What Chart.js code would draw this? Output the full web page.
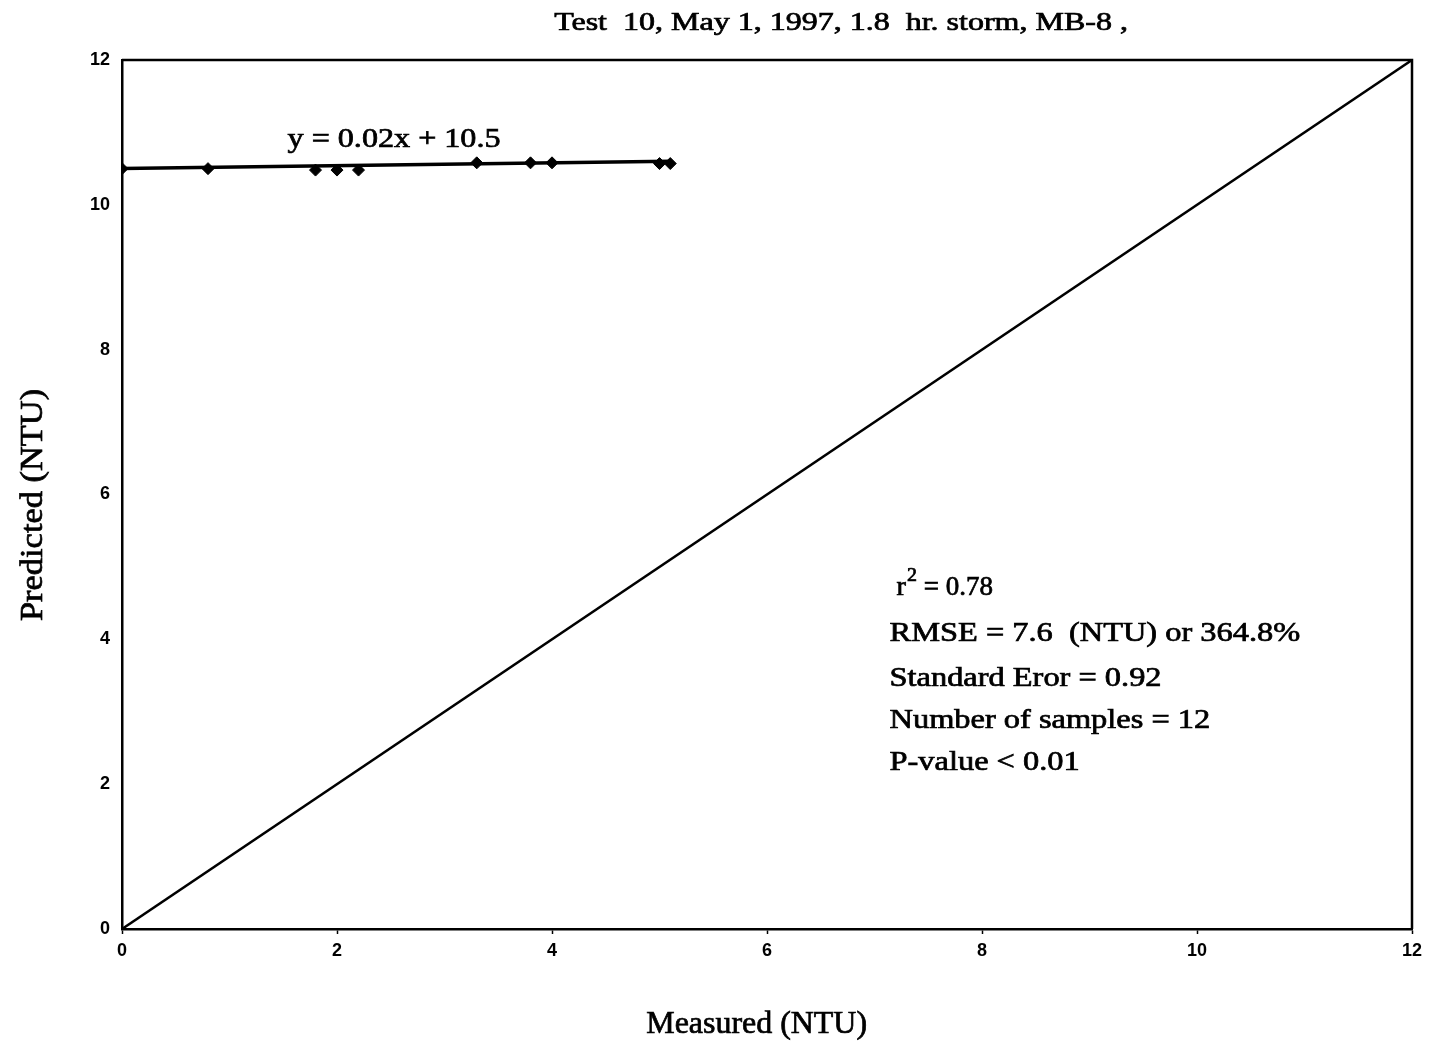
<!DOCTYPE html>
<html>
<head>
<meta charset="utf-8">
<title>Test 10, MB-8</title>
<script src="https://cdn.jsdelivr.net/npm/chart.js@4.4.0/dist/chart.umd.min.js"></script>
<style>
  html, body { margin: 0; padding: 0; background: #fff; }
  #wrap { width: 1434px; height: 1047px; position: relative; }
</style>
</head>
<body>
<div id="wrap"><canvas id="ntuChart"></canvas></div>
<script>
// measured vs predicted turbidity, storm of May 1 1997
var measured  = [0, 0.8, 1.8, 2.0, 2.2, 3.3, 3.8, 4.0, 5.0, 5.1];
var predicted = [10.5, 10.5, 10.48, 10.48, 10.48, 10.58, 10.58, 10.58, 10.57, 10.57];

// regression line y = 0.02x + 10.5
var fitSlope = 0.02;
var fitIntercept = 10.5;

var axisMin = 0, axisMax = 12, axisStep = 2;

var titleText = 'Test  10, May 1, 1997, 1.8  hr. storm, MB-8 ,';
var xTitle = 'Measured (NTU)';
var yTitle = 'Predicted (NTU)';
var eqText = 'y = 0.02x + 10.5';
var r2Text = '0.78';
var statLines = [
  'RMSE = 7.6  (NTU) or 364.8%',
  'Standard Eror = 0.92',
  'Number of samples = 12',
  'P-value < 0.01'
];

var points = measured.map(function (m, i) { return { x: m, y: predicted[i] }; });
var fitX = [Math.min.apply(null, measured), Math.max.apply(null, measured)];
var fitLine = fitX.map(function (x) { return { x: x, y: fitSlope * x + fitIntercept }; });
var oneToOne = [{ x: axisMin, y: axisMin }, { x: axisMax, y: axisMax }];

var serif = '"Liberation Serif", "Times New Roman", serif';
var sans = '"Liberation Sans", Arial, sans-serif';

// text drawn a little wider and heavier than the plain font
function wideText(ctx, text, x, y, sx, align, rot) {
  ctx.save();
  ctx.translate(x, y);
  if (rot) ctx.rotate(rot);
  ctx.scale(sx, 1);
  ctx.textAlign = align || 'left';
  ctx.lineWidth = 0.7;
  ctx.strokeStyle = '#000';
  ctx.fillText(text, 0, 0);
  ctx.strokeText(text, 0, 0);
  var w = ctx.measureText(text).width * sx;
  ctx.restore();
  return w;
}

// frame, titles and text notes
var notesPlugin = {
  id: 'notes',
  afterDatasetsDraw: function (chart) {
    var ctx = chart.ctx, a = chart.chartArea;
    var xs = chart.scales.x, ys = chart.scales.y;
    ctx.save();
    ctx.strokeStyle = '#000';
    ctx.lineWidth = 2.5;
    ctx.beginPath();
    ctx.moveTo(a.left, a.top);
    ctx.lineTo(a.right, a.top);
    ctx.lineTo(a.right, a.bottom);
    ctx.stroke();

    ctx.fillStyle = '#000';
    ctx.textBaseline = 'alphabetic';

    ctx.font = '25px ' + serif;
    wideText(ctx, titleText, a.left + a.width * 0.335, 30, 1.28);

    ctx.font = '31px ' + serif;
    wideText(ctx, xTitle, a.left + a.width * 0.492, a.bottom + 104, 1.03, 'center');
    wideText(ctx, yTitle, 42, a.top + a.height * 0.512, 1.11, 'center', -Math.PI / 2);

    ctx.font = '27px ' + serif;
    wideText(ctx, eqText, xs.getPixelForValue(1.54), ys.getPixelForValue(10.8), 1.19);

    // r squared with raised exponent
    var sx = xs.getPixelForValue(7.14);
    var rx = sx + 7, ry = ys.getPixelForValue(4.61);
    ctx.font = '27px ' + serif;
    var w = wideText(ctx, 'r', rx, ry, 1.05);
    ctx.font = '19px ' + serif;
    w += wideText(ctx, '2', rx + w + 1, ry - 14, 1.05);
    ctx.font = '27px ' + serif;
    wideText(ctx, ' = ' + r2Text, rx + w + 1, ry, 1.0);

    var lineY = [3.98, 3.36, 2.78, 2.19];
    statLines.forEach(function (t, i) {
      wideText(ctx, t, sx, ys.getPixelForValue(lineY[i]), 1.2);
    });
    ctx.restore();
  }
};

var ctx1 = document.getElementById('ntuChart').getContext('2d');
var ntuChart = new Chart(ctx1, {
  type: 'scatter',
  data: {
    datasets: [
      {
        label: 'Samples',
        data: points,
        pointStyle: 'rectRot',
        pointRadius: 6,
        backgroundColor: '#000',
        borderColor: '#000',
        borderWidth: 1,
        order: 1
      },
      {
        label: 'Fit',
        data: fitLine,
        showLine: true,
        pointRadius: 0,
        borderColor: '#000',
        borderWidth: 3.5,
        order: 2
      },
      {
        label: '1:1',
        data: oneToOne,
        showLine: true,
        pointRadius: 0,
        borderColor: '#000',
        borderWidth: 2.5,
        order: 3
      }
    ]
  },
  options: {
    responsive: true,
    maintainAspectRatio: false,
    animation: false,
    layout: { padding: { top: 60, right: 22, bottom: 0, left: 0 } },
    plugins: {
      legend: { display: false },
      tooltip: { enabled: false }
    },
    scales: {
      x: {
        type: 'linear',
        min: axisMin,
        max: axisMax,
        ticks: {
          stepSize: axisStep,
          color: '#000',
          padding: 6,
          font: { family: sans, size: 18, weight: 'bold' }
        },
        grid: { drawOnChartArea: false, color: '#000', tickLength: 5, tickWidth: 1.5 },
        border: { color: '#000', width: 2.5 },
        afterFit: function (s) { s.height = 118; }
      },
      y: {
        type: 'linear',
        min: axisMin,
        max: axisMax,
        ticks: {
          stepSize: axisStep,
          color: '#000',
          padding: 12,
          font: { family: sans, size: 18, weight: 'bold' }
        },
        grid: { drawOnChartArea: false, drawTicks: false, color: '#000' },
        border: { color: '#000', width: 2.5 },
        afterFit: function (s) { s.width = 122; }
      }
    }
  },
  plugins: [notesPlugin]
});
</script>
</body>
</html>
